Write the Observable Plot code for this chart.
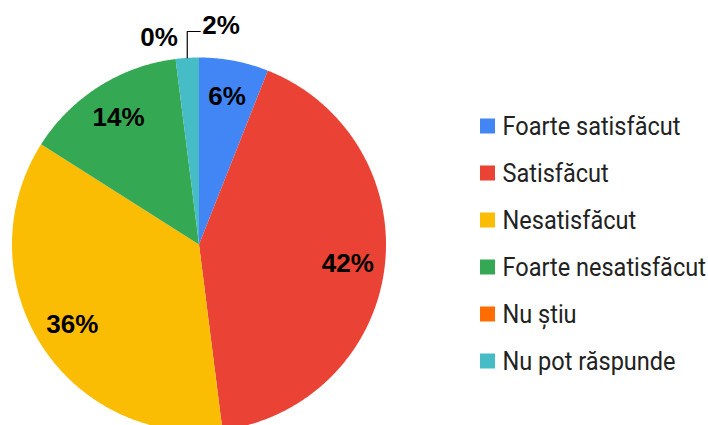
<!DOCTYPE html>
<html>
<head>
<meta charset="utf-8">
<script src="https://cdn.jsdelivr.net/npm/d3@7"></script>
<script src="https://cdn.jsdelivr.net/npm/@observablehq/plot@0.6"></script>
<style>
  html, body { margin: 0; padding: 0; background: #fff; }
  #chart svg { display: block; }
</style>
</head>
<body>
<div id="chart"></div>
<script>
const categories = ["Foarte satisfăcut", "Satisfăcut", "Nesatisfăcut", "Foarte nesatisfăcut", "Nu știu", "Nu pot răspunde"];
const values = [6, 42, 36, 14, 0, 2];
const colors = ["#4285F4", "#EA4335", "#FBBC04", "#34A853", "#FF6D01", "#46BDC6"];
const labels = ["6%", "42%", "36%", "14%", "0%", "2%"];

const W = 708, H = 425;
const cx = 198.5, cy = 244, R = 187, labelR = 150;

const arcs = d3.pie().sort(null).value(d => d)(values);

const pt = (a, r) => ({x: cx + r * Math.sin(a), y: cy - r * Math.cos(a)});

const slices = arcs.map((a, i) => {
  const pts = [{...pt(0, 0)}];
  const n = Math.max(2, Math.ceil((a.endAngle - a.startAngle) / (Math.PI / 360)));
  for (let k = 0; k <= n; k++) {
    pts.push(pt(a.startAngle + (a.endAngle - a.startAngle) * k / n, R));
  }
  pts.push(pt(0, 0));
  return {i, pts, value: values[i]};
}).filter(s => s.value > 0);

// inside labels
const inside = arcs.map((a, i) => ({i, mid: (a.startAngle + a.endAngle) / 2, label: labels[i], v: values[i]}))
  .filter(d => d.v >= 5)
  .map(d => ({...pt(d.mid, labelR), label: d.label}));

// outside labels (small slices)
const zeroIdx = 4, smallIdx = 5;
const zMid = (arcs[zeroIdx].startAngle + arcs[zeroIdx].endAngle) / 2;
const sMid = (arcs[smallIdx].startAngle + arcs[smallIdx].endAngle) / 2;
const zPos = pt(zMid, 208.7);
const sEdge = pt(sMid, R);
const leaderY = 31;
const leader = [sEdge, {x: sEdge.x, y: leaderY}, {x: sEdge.x + 13, y: leaderY}];

// legend
const legX = 480, legStep = 47, legY0 = 126, sq = 15;
const legTextX = legX + sq + 7;
const legend = categories.map((c, i) => ({c, i, y: legY0 + i * legStep}));

const pctFont = "Liberation Sans, Arial, sans-serif";

const marks = [
  ...slices.map(s => Plot.line(s.pts, {x: "x", y: "y", fill: colors[s.i], stroke: "none", curve: "linear"})),
  Plot.text(inside, {x: "x", y: "y", text: "label", fontSize: 26, fontWeight: "bold", fontFamily: pctFont, fill: "#000"}),
  Plot.text([{x: zPos.x + 5, y: zPos.y, t: labels[zeroIdx]}], {x: "x", y: "y", text: "t", textAnchor: "end", fontSize: 26, fontWeight: "bold", fontFamily: pctFont, fill: "#000"}),
  Plot.line(leader, {x: "x", y: "y", stroke: "#000", strokeWidth: 1.2}),
  Plot.text([{x: sEdge.x + 15, y: leaderY - 6, t: labels[smallIdx]}], {x: "x", y: "y", text: "t", textAnchor: "start", fontSize: 26, fontWeight: "bold", fontFamily: pctFont, fill: "#000"}),
  Plot.rect(legend, {x1: () => legX, x2: () => legX + sq, y1: d => d.y - sq / 2, y2: d => d.y + sq / 2, fill: d => colors[d.i]}),
  Plot.text(legend, {x: () => legTextX, y: "y", text: "c", textAnchor: "start", fontSize: 26, fontFamily: "Roboto, sans-serif", fill: "#222"})
];

const chart = Plot.plot({
  width: W, height: H,
  margin: 0,
  x: {domain: [0, W], range: [0, W], axis: null},
  y: {domain: [0, H], range: [0, H], axis: null},
  style: {background: "#fff"},
  marks
});

// condense legend text horizontally (reference uses a condensed face)
const textGroups = chart.querySelectorAll('g[aria-label="text"]');
const legG = textGroups[textGroups.length - 1];
const prev = legG.getAttribute("transform") || "";
legG.setAttribute("transform", `${prev} translate(${legTextX} 0) scale(0.905 1) translate(${-legTextX} 0)`);

document.getElementById("chart").appendChild(chart);
</script>
</body>
</html>
